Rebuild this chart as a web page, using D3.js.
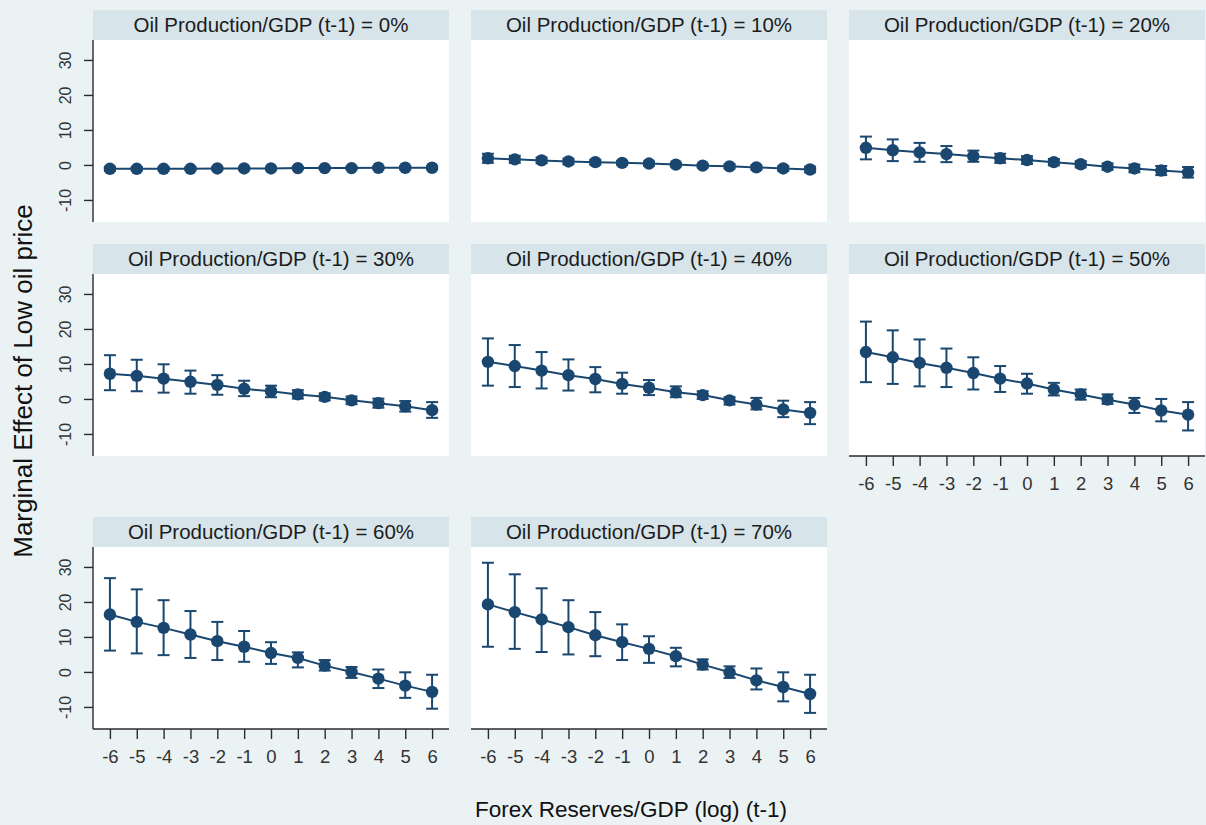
<!DOCTYPE html>
<html>
<head>
<meta charset="utf-8">
<script src="https://cdn.jsdelivr.net/npm/d3@7"></script>
<style>
  html, body { margin: 0; padding: 0; background: #eaf2f3; }
  svg { display: block; font-family: "Liberation Sans", Arial, sans-serif; }
</style>
</head>
<body>
<svg id="chart" width="1206" height="825"></svg>
<script>
// Forex reserves/GDP (log) grid at which the marginal effect is evaluated
const forexLevels = [-6, -5, -4, -3, -2, -1, 0, 1, 2, 3, 4, 5, 6];

// Oil production/GDP levels, one panel each
const oilShares = ["0%", "10%", "20%", "30%", "40%", "50%", "60%", "70%"];

// Y axis tick labels
const yTicks = [-10, 0, 10, 20, 30];

// Marginal effect estimates and 95% confidence bounds for each panel
const effect0 = [-1.1, -1.1, -1.1, -1.1, -1.0, -1.0, -1.0, -0.9, -0.9, -0.9, -0.8, -0.8, -0.8];
const low0    = [-1.7, -1.6, -1.6, -1.5, -1.4, -1.4, -1.3, -1.2, -1.2, -1.2, -1.2, -1.3, -1.3];
const high0   = [-0.5, -0.6, -0.6, -0.7, -0.6, -0.6, -0.7, -0.6, -0.6, -0.6, -0.4, -0.3, -0.3];

const effect10 = [1.9, 1.6, 1.3, 1.0, 0.8, 0.6, 0.4, 0.1, -0.2, -0.4, -0.7, -1.0, -1.3];
const low10    = [0.6, 0.6, 0.5, 0.2, 0.1, 0.0, -0.2, -0.4, -0.7, -1.0, -1.3, -1.7, -2.1];
const high10   = [3.2, 2.6, 2.1, 1.8, 1.5, 1.2, 1.0, 0.6, 0.3, 0.2, -0.1, -0.3, -0.5];

const effect20 = [4.9, 4.2, 3.6, 3.1, 2.5, 1.9, 1.4, 0.8, 0.2, -0.5, -1.0, -1.6, -2.1];
const low20    = [1.6, 1.1, 0.9, 0.8, 0.9, 0.6, 0.3, -0.1, -0.7, -1.4, -2.1, -2.9, -3.6];
const high20   = [8.1, 7.3, 6.3, 5.4, 4.1, 3.2, 2.5, 1.7, 1.1, 0.4, 0.1, -0.3, -0.6];

const effect30 = [7.2, 6.6, 5.8, 4.9, 4.0, 2.9, 2.2, 1.3, 0.6, -0.4, -1.2, -2.1, -3.2];
const low30    = [2.5, 2.2, 1.8, 1.5, 1.2, 0.8, 0.5, 0.1, -0.4, -1.5, -2.5, -3.6, -5.4];
const high30   = [12.5, 11.2, 9.9, 8.1, 6.8, 5.2, 3.8, 2.5, 1.6, 0.7, 0.1, -0.6, -0.9];

const effect40 = [10.6, 9.4, 8.1, 6.8, 5.7, 4.3, 3.2, 1.9, 1.1, -0.4, -1.6, -3.0, -4.0];
const low40    = [3.8, 3.4, 3.0, 2.4, 1.9, 1.5, 1.1, 0.5, 0.0, -1.6, -3.0, -5.2, -7.2];
const high40   = [17.3, 15.4, 13.4, 11.3, 9.1, 7.5, 5.4, 3.6, 2.2, 0.5, 0.3, -0.5, -0.9];

const effect50 = [13.4, 11.9, 10.3, 8.9, 7.4, 5.8, 4.4, 2.7, 1.3, -0.2, -1.6, -3.3, -4.5];
const low50    = [4.8, 4.3, 3.6, 3.4, 2.7, 2.0, 1.5, 1.0, -0.2, -1.4, -4.0, -6.4, -9.0];
const high50   = [22.1, 19.6, 17.0, 14.4, 11.9, 9.4, 7.2, 4.6, 2.7, 1.3, 0.3, 0.0, -0.9];

const effect60 = [16.4, 14.3, 12.6, 10.7, 8.8, 7.2, 5.4, 4.0, 1.8, 0.0, -1.9, -3.9, -5.7];
const low60    = [6.1, 5.3, 4.8, 4.0, 3.4, 2.9, 2.3, 1.3, 0.4, -1.7, -4.6, -7.4, -10.5];
const high60   = [26.8, 23.6, 20.5, 17.4, 14.3, 11.7, 8.5, 5.6, 3.4, 1.4, 0.7, -0.1, -0.8];

const effect70 = [19.3, 17.1, 15.0, 12.8, 10.5, 8.5, 6.6, 4.5, 2.1, -0.1, -2.4, -4.3, -6.3];
const low70    = [7.2, 6.6, 5.7, 5.0, 4.5, 3.4, 2.6, 1.6, 0.7, -1.7, -5.0, -8.4, -11.7];
const high70   = [31.2, 27.9, 23.9, 20.5, 17.1, 13.6, 10.2, 6.9, 3.6, 1.6, 1.0, -0.1, -0.8];

const effects = [effect0, effect10, effect20, effect30, effect40, effect50, effect60, effect70];
const lows    = [low0, low10, low20, low30, low40, low50, low60, low70];
const highs   = [high0, high10, high20, high30, high40, high50, high60, high70];

// ---- layout ----
const colLeft = [93, 471, 849];
const rowTop = [10, 244, 517];
const panelW = 356;
const stripH = 30;
const plotH = 182;
const navy = "#1a476f";
const axisInk = "#2b2b2b";

const svg = d3.select("#chart");

const x = d3.scaleLinear().domain([-6.63, 6.63]).range([0, panelW]);
const y = d3.scaleLinear().domain([-16.3, 35.7]).range([plotH, 0]);

oilShares.forEach((share, i) => {
  const row = Math.floor(i / 3), col = i % 3;
  const showY = col === 0;
  const showX = i >= 5;
  const g = svg.append("g")
    .attr("transform", `translate(${colLeft[col]},${rowTop[row]})`);

  // title strip
  g.append("rect")
    .attr("x", 0).attr("y", 0)
    .attr("width", panelW).attr("height", stripH)
    .attr("fill", "#d7e4e9");
  g.append("text")
    .attr("x", panelW / 2).attr("y", 21.5)
    .attr("text-anchor", "middle")
    .attr("font-size", 20.5)
    .attr("fill", "#1c1c1c")
    .text(`Oil Production/GDP (t-1) = ${share}`);

  const plot = g.append("g").attr("transform", `translate(0,${stripH})`);
  plot.append("rect")
    .attr("width", panelW).attr("height", plotH)
    .attr("fill", "#ffffff");

  if (showY) {
    const ya = plot.append("g").call(
      d3.axisLeft(y).tickValues(yTicks).tickSize(9).tickFormat(d => String(d))
    );
    ya.select(".domain").attr("d", `M0,0V${plotH}`).attr("stroke", axisInk).attr("stroke-width", 1.4);
    ya.selectAll(".tick line").attr("stroke", axisInk).attr("stroke-width", 1.4);
    ya.selectAll(".tick text")
      .attr("font-size", 16)
      .attr("fill", "#333")
      .attr("transform", "rotate(-90)")
      .attr("x", 0).attr("y", -22)
      .attr("dy", 0)
      .attr("text-anchor", "middle");
  }

  if (showX) {
    const xa = plot.append("g")
      .attr("transform", `translate(0,${plotH})`)
      .call(d3.axisBottom(x).tickValues(forexLevels).tickSize(10).tickPadding(11).tickFormat(d => String(d)));
    xa.select(".domain").attr("d", `M0,0H${panelW}`).attr("stroke", axisInk).attr("stroke-width", 1.4);
    xa.selectAll(".tick line").attr("stroke", axisInk).attr("stroke-width", 1.4);
    xa.selectAll(".tick text").attr("font-size", 18.5).attr("fill", "#333");
  }

  const pts = forexLevels.map((fx, k) => ({
    fx, est: effects[i][k], lo: lows[i][k], hi: highs[i][k]
  }));

  // confidence intervals with caps
  const capW = 6;
  const ci = plot.append("g")
    .attr("stroke", navy).attr("stroke-width", 2).attr("fill", "none");
  pts.forEach(p => {
    ci.append("line")
      .attr("x1", x(p.fx)).attr("x2", x(p.fx))
      .attr("y1", y(p.lo)).attr("y2", y(p.hi));
    ci.append("line")
      .attr("x1", x(p.fx) - capW).attr("x2", x(p.fx) + capW)
      .attr("y1", y(p.lo)).attr("y2", y(p.lo));
    ci.append("line")
      .attr("x1", x(p.fx) - capW).attr("x2", x(p.fx) + capW)
      .attr("y1", y(p.hi)).attr("y2", y(p.hi));
  });

  // connecting line
  plot.append("path")
    .datum(pts)
    .attr("fill", "none")
    .attr("stroke", navy)
    .attr("stroke-width", 2)
    .attr("d", d3.line().x(p => x(p.fx)).y(p => y(p.est)));

  // point markers
  plot.selectAll("circle.pt")
    .data(pts)
    .join("circle")
    .attr("class", "pt")
    .attr("cx", p => x(p.fx))
    .attr("cy", p => y(p.est))
    .attr("r", 6.2)
    .attr("fill", navy);
});

// axis titles
svg.append("text")
  .attr("transform", "translate(32,381) rotate(-90)")
  .attr("text-anchor", "middle")
  .attr("font-size", 26)
  .attr("fill", "#111")
  .text("Marginal Effect of Low oil price");

svg.append("text")
  .attr("x", 631).attr("y", 817)
  .attr("text-anchor", "middle")
  .attr("font-size", 22.5)
  .attr("fill", "#111")
  .text("Forex Reserves/GDP (log) (t-1)");
</script>
</body>
</html>
